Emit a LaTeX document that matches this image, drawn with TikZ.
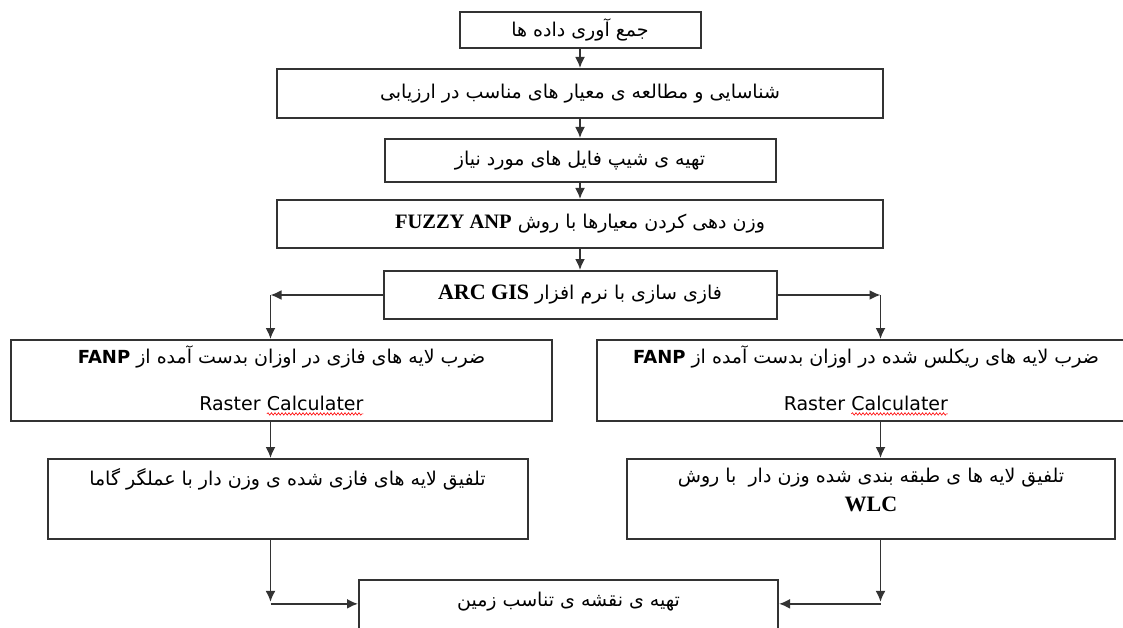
\documentclass[tikz,border=0pt]{standalone}
\usepackage{fontspec}
\usepackage{tikz}
\usetikzlibrary{positioning,arrows.meta,decorations.pathmorphing}
\TeXXeTstate=1
\newfontfamily\fa[Script=Arabic]{DejaVu Sans}
\newfontfamily\lat{DejaVu Sans}
\newfontfamily\tms{Liberation Serif}
\newcommand\spellwave[1]{\tikz[baseline=(w.base),x=1pt,y=1pt]{\node[draw=none,inner sep=0pt,outer sep=0pt,minimum size=0pt] (w) {#1};
        \draw[red,line width=0.6pt,decorate,decoration={snake,amplitude=1.2pt,segment length=3.5pt}] ([yshift=-3.5pt]w.base west) -- ([yshift=-3.5pt]w.base east);}}

\begin{document}
\begin{tikzpicture}[x=1pt,y=-1pt,
        box/.style={draw=black!80,line width=2pt,inner sep=0pt,font=\fa\fontsize{19}{23}\selectfont},
        arr/.style={-{Latex[length=11pt,width=10pt]},line width=1.8pt,draw=black!80},
        topbox/.style={box,text height=14pt,text depth=#1,inner ysep=12pt}]
        \useasboundingbox (0,0) rectangle (1123,628);
        \node[box,minimum width=241pt,minimum height=36pt] (a) at (580,30) {\beginR جمع آوری داده ها\endR};
        \node[box,minimum width=606pt,minimum height=49pt,below=19pt of a] (b) {\beginR شناسایی و مطالعه ی معیار های مناسب در ارزیابی\endR};
        \node[box,minimum width=391pt,minimum height=43pt,below=19pt of b] (c) {\beginR تهیه ی شیپ فایل های مورد نیاز\endR};
        \node[box,minimum width=606pt,minimum height=48pt,below=16pt of c] (d) {\beginR وزن دهی کردن معیارها با روش \beginL{\tms\bfseries\fontsize{20.5}{22}\selectfont FUZZY ANP}\endL\endR};
        \node[box,minimum width=393pt,minimum height=48pt,below=21pt of d] (e) {\beginR فازی سازی با نرم افزار \beginL{\tms\bfseries\fontsize{22}{24}\selectfont ARC GIS}\endL\endR};
        \coordinate[left=112pt of e.west] (l);
        \coordinate[right=103pt of e.east] (r);
        \node[box,minimum width=541pt,minimum height=81pt,align=center] (f1) at (281.5,380.5) {\beginR ضرب لایه های فازی در اوزان بدست آمده از \beginL{\lat\bfseries\fontsize{18}{22}\selectfont FANP}\endL\endR\\[24pt]{\lat\fontsize{19}{22}\selectfont Raster \spellwave{Calculater}}};
        \node[box,minimum width=538pt,minimum height=81pt,align=center] (f2) at (866,380.5) {\beginR ضرب لایه های ریکلس شده در اوزان بدست آمده از \beginL{\lat\bfseries\fontsize{18}{22}\selectfont FANP}\endL\endR\\[24pt]{\lat\fontsize{19}{22}\selectfont Raster \spellwave{Calculater}}};
        \node[topbox=42pt,minimum width=480pt,below=36pt of f1,xshift=6pt] (g1) {\beginR تلفیق لایه های فازی شده ی وزن دار با عملگر گاما\endR};
        \node[box,minimum width=488pt,minimum height=80pt,align=center,below=36pt of f2,xshift=5pt] (g2) {\beginR تلفیق لایه ها ی طبقه بندی شده وزن دار\ \ با روش\endR\\[6pt]{\tms\bfseries\fontsize{22}{24}\selectfont WLC}\\[-4pt]\mbox{}};
        \node[topbox=70pt,minimum width=419pt,anchor=north] (h) at (568.5,579) {\beginR تهیه ی نقشه ی تناسب زمین\endR};
        \draw[arr] (a) -- (b);
        \draw[arr] (b) -- (c);
        \draw[arr] (c) -- (d);
        \draw[arr] (d) -- (e);
        \draw[arr] (e.west) -- (l);
        \draw[arr] (l) -- (l |- f1.north);
        \draw[arr] (e.east) -- (r);
        \draw[arr] (r) -- (r |- f2.north);
        \draw[arr] (l |- f1.south) -- (l |- g1.north);
        \draw[arr] (r |- f2.south) -- (r |- g2.north);
        \draw[arr] (l |- g1.south) -- ([yshift=2pt]l |- h.mid west);
        \draw[arr] (l |- h.mid west) -- (h.mid west);
        \draw[arr] (r |- g2.south) -- ([yshift=2pt]r |- h.mid east);
        \draw[arr] (r |- h.mid east) -- (h.mid east);
\end{tikzpicture}
\end{document}
